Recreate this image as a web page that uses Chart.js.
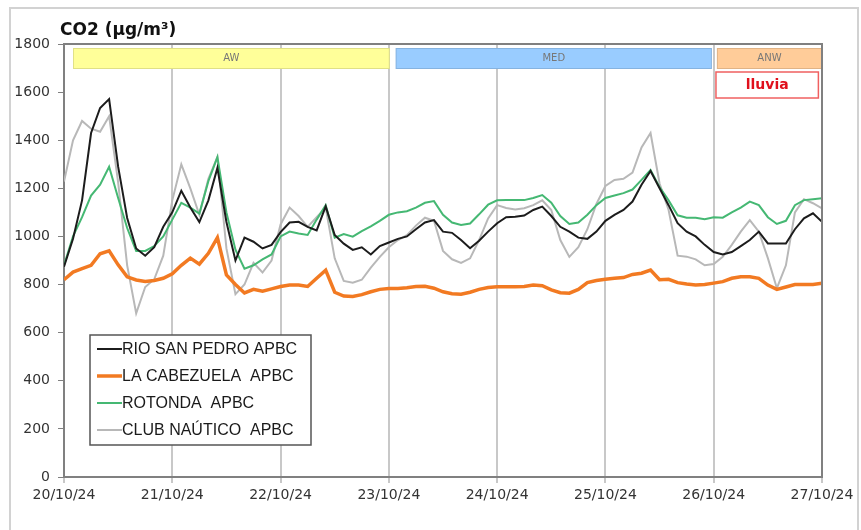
<!DOCTYPE html>
<html>
<head>
<meta charset="utf-8">
<title>CO2</title>
<script src="https://cdn.jsdelivr.net/npm/chart.js@4.4.0/dist/chart.umd.min.js"></script>
<style>
  html, body { margin: 0; padding: 0; background: #fff; overflow: hidden; }
  #wrap { position: relative; width: 861px; height: 530px; }
</style>
</head>
<body>
<div id="wrap"><canvas id="co2Chart"></canvas></div>
<script>
// Readings every 2 hours, 20/10/24 00:00 -> 27/10/24 00:00
const hours = Array.from({ length: 85 }, (_, i) => i * 2);
const dateLabels = ['20/10/24', '21/10/24', '22/10/24', '23/10/24', '24/10/24', '25/10/24', '26/10/24', '27/10/24'];

const seriesNames = ['RIO SAN PEDRO APBC', 'LA CABEZUELA  APBC', 'ROTONDA  APBC', 'CLUB NAÚTICO  APBC'];

const rioSanPedro = [
    874, 990, 1150, 1430, 1534, 1571, 1290, 1077, 950, 920, 955, 1040,
    1100, 1190, 1120, 1060, 1150, 1285, 1060, 900, 995, 978, 950, 965,
    1018, 1058, 1061, 1040, 1025, 1125, 1006, 970, 944, 955, 925, 960,
    975, 990, 1000, 1030, 1058, 1068, 1020, 1015, 985, 951, 982, 1020,
    1055, 1080, 1082, 1087, 1110, 1124, 1085, 1040, 1020, 995, 990, 1020,
    1065, 1090, 1110, 1145, 1215, 1272, 1200, 1130, 1055, 1020, 1000, 965,
    935, 925, 935, 960, 985, 1020, 971, 971, 971, 1030, 1075, 1096,
    1061
];
const laCabezuela = [
    820, 852, 866, 880, 928, 940, 882, 832, 819, 813, 817, 826,
    845, 880, 910, 885, 930, 995, 840, 800, 765, 780, 772, 782,
    792, 798, 798, 792, 826, 860, 768, 752, 750, 758, 770, 780,
    784, 784, 787, 792, 793, 785, 770, 762, 760, 768, 780, 788,
    791, 791, 791, 792, 798, 795, 778, 766, 764, 780, 808, 817,
    822, 826, 829, 842, 847, 860, 820, 822, 808, 802, 798, 800,
    806, 812, 826, 832, 832, 826, 798, 780, 790, 800, 800, 800,
    805
];
const rotonda = [
    880, 1000, 1080, 1170, 1215, 1290, 1160, 1035, 940, 940, 960, 1000,
    1070, 1140, 1120, 1095, 1230, 1330, 1100, 945, 866, 880, 905, 925,
    1000, 1020, 1012, 1006, 1070, 1130, 995, 1010, 999, 1022, 1042, 1065,
    1090, 1100, 1105, 1120, 1140, 1147, 1090, 1058, 1048, 1054, 1092, 1132,
    1150, 1151, 1151, 1151, 1160, 1172, 1140, 1085, 1052, 1058, 1090, 1130,
    1160, 1170, 1180, 1195, 1235, 1276, 1205, 1150, 1088, 1078, 1078, 1072,
    1080, 1078, 1100, 1120, 1145, 1130, 1080, 1052, 1065, 1130, 1151, 1155,
    1159
];
const clubNautico = [
    1228, 1400, 1480, 1448, 1435, 1500, 1225, 880, 680, 790, 822, 920,
    1150, 1300, 1200, 1090, 1240, 1330, 950, 760, 800, 890, 850, 900,
    1050, 1120, 1085, 1040, 1080, 1120, 909, 815, 808, 820, 870, 915,
    955, 985, 1005, 1045, 1078, 1065, 940, 905, 890, 909, 985, 1075,
    1130, 1118, 1112, 1117, 1130, 1150, 1110, 985, 915, 955, 1030, 1135,
    1210, 1235, 1240, 1265, 1370, 1430, 1220, 1110, 920, 916, 905, 880,
    885, 915, 965, 1020, 1068, 1020, 910, 785, 880, 1100, 1155, 1138,
    1117
];

// air mass periods (hours from start)
const periodNames = ['AW', 'MED', 'ANW'];
const periodStart = [2, 73.5, 144.7];
const periodEnd = [72.2, 143.6, 168];
const rainLabel = 'lluvia';
const rainStart = 144.5;
const rainEnd = 167.2;

const seriesStyles = [
    { color: '#1c1c1c', width: 2 },
    { color: '#f27a22', width: 3.5 },
    { color: '#45b873', width: 2 },
    { color: '#b8b8b8', width: 2 }
];
const periodColors = ['#ffff99', '#99ccff', '#ffcc99'];

const seriesValues = [rioSanPedro, laCabezuela, rotonda, clubNautico];

const decorPlugin = {
    id: 'decor',
    beforeDraw(chart) {
        const ctx = chart.ctx;
        ctx.save();
        ctx.fillStyle = '#fff';
        ctx.fillRect(0, 0, chart.width, chart.height);
        ctx.strokeStyle = '#d2d2d2';
        ctx.lineWidth = 2;
        ctx.strokeRect(10, 8, 848, 600);
        ctx.fillStyle = '#111';
        ctx.font = 'bold 17px "DejaVu Sans"';
        ctx.textBaseline = 'alphabetic';
        ctx.fillText('CO2 (µg/m³)', 60, 35);
        ctx.restore();
    },
    beforeDatasetsDraw(chart) {
        const ctx = chart.ctx;
        const x = chart.scales.x;
        const top = chart.chartArea.top;
        ctx.save();
        periodNames.forEach((name, i) => {
            const x0 = x.getPixelForValue(periodStart[i]);
            const x1 = x.getPixelForValue(periodEnd[i]);
            ctx.fillStyle = periodColors[i];
            ctx.fillRect(x0, top + 4, x1 - x0, 21);
            ctx.strokeStyle = 'rgba(0,0,0,0.12)';
            ctx.lineWidth = 1;
            ctx.strokeRect(x0 + 0.5, top + 4.5, x1 - x0 - 1, 20);
            ctx.fillStyle = '#777';
            ctx.font = '10px "DejaVu Sans"';
            ctx.textAlign = 'center';
            ctx.textBaseline = 'middle';
            ctx.fillText(name, (x0 + x1) / 2, top + 14);
        });
        const r0 = x.getPixelForValue(rainStart);
        const r1 = x.getPixelForValue(rainEnd);
        ctx.fillStyle = '#fff';
        ctx.fillRect(r0, top + 28, r1 - r0, 26);
        ctx.strokeStyle = '#f06060';
        ctx.lineWidth = 1.5;
        ctx.strokeRect(r0, top + 28, r1 - r0, 26);
        ctx.fillStyle = '#e0101c';
        ctx.font = 'bold 14px "DejaVu Sans"';
        ctx.textAlign = 'center';
        ctx.textBaseline = 'middle';
        ctx.fillText(rainLabel, (r0 + r1) / 2, top + 41);
        ctx.restore();
    },
    afterDatasetsDraw(chart) {
        const ctx = chart.ctx;
        const a = chart.chartArea;
        ctx.save();
        // top and right frame of the plot
        ctx.strokeStyle = '#808080';
        ctx.lineWidth = 2;
        ctx.beginPath();
        ctx.moveTo(a.left, a.top);
        ctx.lineTo(a.right, a.top);
        ctx.lineTo(a.right, a.bottom);
        ctx.stroke();

        // legend box
        ctx.fillStyle = '#fff';
        ctx.fillRect(90, 335, 221, 110);
        ctx.strokeStyle = '#555';
        ctx.lineWidth = 1.5;
        ctx.strokeRect(90, 335, 221, 110);
        ctx.font = '16px "Liberation Sans"';
        ctx.textBaseline = 'middle';
        ctx.textAlign = 'left';
        chart.data.datasets.forEach((ds, i) => {
            const y = 349 + i * 27;
            ctx.strokeStyle = ds.borderColor;
            ctx.lineWidth = ds.borderWidth;
            ctx.beginPath();
            ctx.moveTo(97, y);
            ctx.lineTo(122, y);
            ctx.stroke();
            ctx.fillStyle = '#1a1a1a';
            ctx.fillText(ds.label, 122, y + 1);
        });
        ctx.restore();
    }
};

new Chart(document.getElementById('co2Chart'), {
    type: 'line',
    data: {
        datasets: seriesNames.map((name, i) => ({
            label: name,
            data: seriesValues[i].map((v, k) => ({ x: hours[k], y: v })),
            borderColor: seriesStyles[i].color,
            borderWidth: seriesStyles[i].width,
            pointRadius: 0,
            tension: 0,
            fill: false
        }))
    },
    options: {
        responsive: true,
        maintainAspectRatio: false,
        animation: false,
        devicePixelRatio: 1,
        layout: { padding: { left: 10, right: 39, top: 44, bottom: 0 } },
        plugins: { legend: { display: false }, tooltip: { enabled: false } },
        scales: {
            x: {
                type: 'linear',
                min: 0,
                max: 168,
                afterFit: s => { s.height = 53; },
                ticks: {
                    stepSize: 24,
                    autoSkip: false,
                    maxRotation: 0,
                    padding: 4,
                    color: '#333',
                    font: { family: 'DejaVu Sans', size: 14 },
                    callback: v => dateLabels[v / 24]
                },
                grid: { color: '#c8c8c8', lineWidth: 2, tickLength: 6 },
                border: { color: '#808080', width: 2 }
            },
            y: {
                min: 0,
                max: 1800,
                afterFit: s => { s.width = 54; },
                ticks: {
                    stepSize: 200,
                    padding: 8,
                    color: '#333',
                    font: { family: 'DejaVu Sans', size: 14 },
                    callback: v => String(v)
                },
                grid: { drawOnChartArea: false, color: '#808080', tickLength: 6 },
                border: { color: '#808080', width: 2 }
            }
        }
    },
    plugins: [decorPlugin]
});
</script>
</body>
</html>
